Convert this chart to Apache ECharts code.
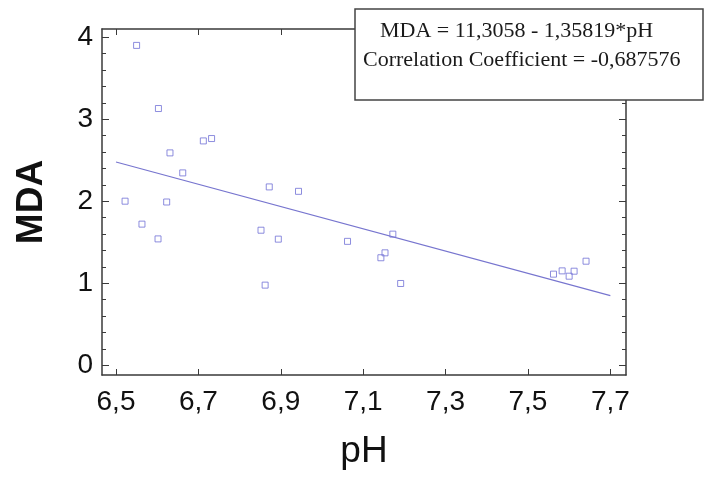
<!DOCTYPE html>
<html>
<head>
<meta charset="utf-8">
<script src="https://cdn.jsdelivr.net/npm/echarts@6/dist/echarts.min.js"></script>
<style>
html,body{margin:0;padding:0;background:#fff;}
#chart{width:705px;height:479px;}
</style>
</head>
<body>
<div id="chart"></div>
<script>
// ---- data ----
var phValues  = [6.550, 6.603, 6.712, 6.732, 6.631, 6.662, 6.522, 6.623, 6.563, 6.602,
                 6.872, 6.943, 6.852, 6.894, 6.862, 7.062, 7.172, 7.143, 7.153, 7.191,
                 7.562, 7.583, 7.600, 7.612, 7.641];
var mdaValues = [3.90, 3.13, 2.735, 2.764, 2.589, 2.345, 2.00, 1.99, 1.72, 1.54,
                 2.174, 2.12, 1.646, 1.537, 0.976, 1.51, 1.598, 1.31, 1.37, 0.996,
                 1.11, 1.15, 1.085, 1.146, 1.268];
var fitX = [6.5, 7.7];
var fitY = [2.478, 0.848];
var xTickValues = [6.5, 6.7, 6.9, 7.1, 7.3, 7.5, 7.7];
var xTickLabels = ['6,5', '6,7', '6,9', '7,1', '7,3', '7,5', '7,7'];
var yTickValues = [0, 1, 2, 3, 4];
var yTickLabels = ['0', '1', '2', '3', '4'];
var yMinorValues = [0.2, 0.4, 0.6, 0.8, 1.2, 1.4, 1.6, 1.8, 2.2, 2.4, 2.6, 2.8, 3.2, 3.4, 3.6, 3.8, 4.0];
var xAxisName = 'pH';
var yAxisName = 'MDA';
var boxLines = ['MDA = 11,3058 - 1,35819*pH', 'Correlation Coefficient = -0,687576'];

// ---- chart ----
var scatterData = phValues.map(function (x, i) { return [x, mdaValues[i]]; });
var fitData = fitX.map(function (x, i) { return [x, fitY[i]]; });

var frameColor = '#3a3a3a';
var xRange = { min: 6.466, max: 7.738 };
var yRange = { min: -0.12, max: 4.1 };
var sans = '"Liberation Sans", Arial, sans-serif';

function lookup(values, labels) {
  return function (v) {
    for (var i = 0; i < values.length; i++) {
      if (Math.abs(values[i] - v) < 1e-9) return labels[i];
    }
    return '';
  };
}

function yAxisDef(pos, ticks, len, showLine, showLabel) {
  return {
    type: 'value', position: pos, min: yRange.min, max: yRange.max,
    splitLine: { show: false },
    axisLine: { show: showLine, onZero: false, lineStyle: { color: frameColor, width: 1.5 } },
    axisTick: { show: true, inside: true, length: len, customValues: ticks,
                lineStyle: { color: frameColor, width: 1 } },
    axisLabel: showLabel ? {
      show: true, customValues: yTickValues, formatter: lookup(yTickValues, yTickLabels),
      fontSize: 28, fontFamily: sans, color: '#111', margin: 9
    } : { show: false },
    name: showLabel ? yAxisName : '',
    nameLocation: 'middle', nameRotate: 90, nameGap: 52,
    nameTextStyle: { fontSize: 37, fontWeight: 'bold', fontFamily: sans, color: '#111' }
  };
}

var chart = echarts.init(document.getElementById('chart'), null, { renderer: 'canvas' });
chart.setOption({
  animation: false,
  backgroundColor: '#fff',
  grid: { left: 102, top: 29, right: 79, bottom: 104, containLabel: false },
  xAxis: [
    {
      type: 'value', position: 'bottom', min: xRange.min, max: xRange.max,
      splitLine: { show: false },
      axisLine: { show: true, onZero: false, lineStyle: { color: frameColor, width: 1.5 } },
      axisTick: { show: true, inside: true, length: 6, customValues: xTickValues,
                  lineStyle: { color: frameColor, width: 1 } },
      axisLabel: { show: true, customValues: xTickValues, formatter: lookup(xTickValues, xTickLabels),
                   fontSize: 28, fontFamily: sans, color: '#111', margin: 13 },
      name: xAxisName, nameLocation: 'middle', nameGap: 58,
      nameTextStyle: { fontSize: 37, fontFamily: sans, color: '#111' }
    },
    {
      type: 'value', position: 'top', min: xRange.min, max: xRange.max,
      splitLine: { show: false },
      axisLine: { show: true, onZero: false, lineStyle: { color: frameColor, width: 1.5 } },
      axisTick: { show: true, inside: true, length: 6, customValues: xTickValues,
                  lineStyle: { color: frameColor, width: 1 } },
      axisLabel: { show: false }
    }
  ],
  yAxis: [
    yAxisDef('left', yTickValues, 7, true, true),
    yAxisDef('left', yMinorValues, 4, false, false),
    yAxisDef('right', yTickValues, 7, true, false),
    yAxisDef('right', yMinorValues, 4, false, false)
  ],
  series: [
    {
      type: 'line', data: fitData, xAxisIndex: 0, yAxisIndex: 0,
      showSymbol: false, silent: true,
      lineStyle: { color: '#7775cf', width: 1.2 }
    },
    {
      type: 'scatter', data: scatterData, xAxisIndex: 0, yAxisIndex: 0,
      symbol: 'rect', symbolSize: 6,
      itemStyle: { color: 'rgba(255,255,255,0)', borderColor: '#7070d6', borderWidth: 1 }
    }
  ],
  graphic: [
    {
      type: 'rect', z: 100,
      shape: { x: 355, y: 9, width: 348, height: 91 },
      style: { fill: '#fff', stroke: '#444', lineWidth: 1.5 }
    },
    {
      type: 'text', z: 101, x: 380, y: 31,
      style: { text: boxLines[0], font: '22px "Liberation Serif", "Times New Roman", serif',
               fill: '#1a1a1a', textAlign: 'left', textVerticalAlign: 'middle' }
    },
    {
      type: 'text', z: 101, x: 363, y: 60,
      style: { text: boxLines[1], font: '22px "Liberation Serif", "Times New Roman", serif',
               fill: '#1a1a1a', textAlign: 'left', textVerticalAlign: 'middle' }
    }
  ]
});
</script>
</body>
</html>
